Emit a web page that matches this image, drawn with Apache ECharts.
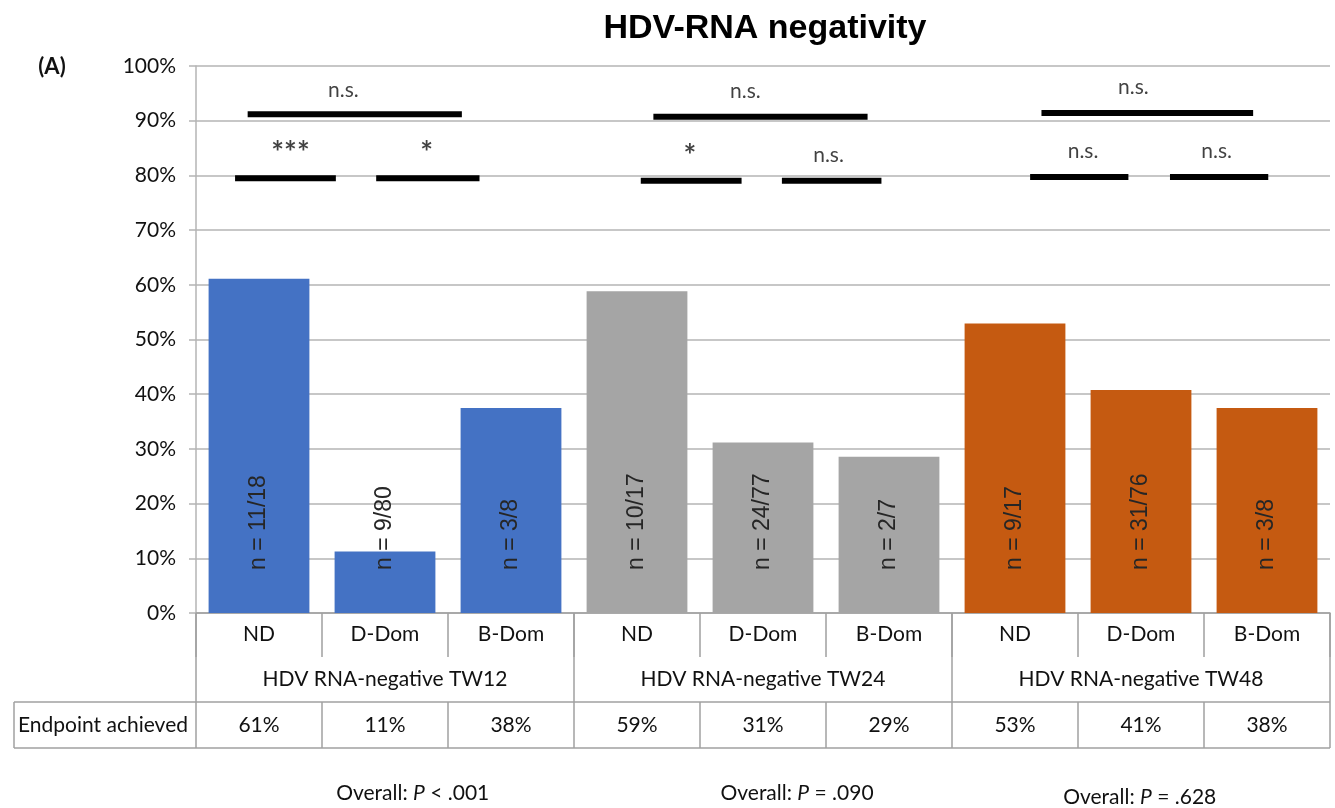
<!DOCTYPE html>
<html>
<head>
<meta charset="utf-8">
<script src="https://cdn.jsdelivr.net/npm/echarts@6/dist/echarts.min.js"></script>
<style>
  html, body { margin: 0; padding: 0; background: #fff; }
  #chart { width: 1335px; height: 808px; }
</style>
</head>
<body>
<div id="chart"></div>
<script>
// Patient subgroups, three per time window
const categories = ['ND', 'D-Dom', 'B-Dom', 'ND', 'D-Dom', 'B-Dom', 'ND', 'D-Dom', 'B-Dom'];
const groups = ['HDV RNA-negative TW12', 'HDV RNA-negative TW24', 'HDV RNA-negative TW48'];
const groupColors = ['#4472C4', '#A5A5A5', '#C55A11'];

// HDV RNA-negative patients / patients in subgroup
const responders = [11, 9, 3, 10, 24, 2, 9, 31, 3];
const totals = [18, 80, 8, 17, 77, 7, 17, 76, 8];
const endpointLabels = ['61%', '11%', '38%', '59%', '31%', '29%', '53%', '41%', '38%'];

// Overall test per time window: [operator, p-value]
const overallP = [['<', '.001'], ['=', '.090'], ['=', '.628']];
const overallPos = [[1.72, 0], [4.77, 0], [7.49, 4]]; // centre in category units, extra drop in px

// Pairwise comparisons: bar from/to (category units), level (%), label, label x, label y (%)
const comparisons = [
  [0.31, 1.11, 79.5, '***', 0.75, 84.0],
  [1.43, 2.25, 79.5, '*', 1.83, 84.0],
  [0.41, 2.11, 91.2, 'n.s.', 1.17, 95.6],
  [3.53, 4.33, 79.0, '*', 3.92, 83.4],
  [4.65, 5.44, 79.0, 'n.s.', 5.02, 83.7],
  [3.63, 5.33, 90.7, 'n.s.', 4.36, 95.4],
  [6.62, 7.40, 79.7, 'n.s.', 7.04, 84.5],
  [7.73, 8.51, 79.7, 'n.s.', 8.10, 84.5],
  [6.71, 8.39, 91.4, 'n.s.', 7.44, 96.2]
];

const SANS = 'Lato, "Open Sans", sans-serif';
const ARIAL = '"Liberation Sans", Arial, sans-serif';
const TEXT = '#111111';
const GRID = '#b4b4b4';
const TABLE = '#a0a0a0';

const pct = responders.map((r, i) => r / totals[i] * 100);

const barSeries = {
  type: 'bar',
  xAxisIndex: 0,
  yAxisIndex: 0,
  barWidth: '80%',
  data: pct.map((v, i) => ({
    value: v,
    itemStyle: { color: groupColors[Math.floor(i / 3)] }
  })),
  label: {
    show: true,
    position: 'insideBottom',
    distance: 43,
    rotate: 90,
    align: 'left',
    verticalAlign: 'middle',
    color: '#262626',
    fontFamily: ARIAL,
    fontSize: 23,
    formatter: p => 'n = ' + responders[p.dataIndex] + '/' + totals[p.dataIndex]
  },
  silent: true
};

const lineSeries = comparisons.map(c => ({
  type: 'line',
  xAxisIndex: 1,
  yAxisIndex: 0,
  symbol: 'none',
  lineStyle: { color: '#000', width: 6, cap: 'butt' },
  data: [[c[0], c[2]], [c[1], c[2]]],
  silent: true,
  z: 5
}));

const sigSeries = {
  type: 'scatter',
  xAxisIndex: 1,
  yAxisIndex: 0,
  symbolSize: 1,
  itemStyle: { color: 'transparent' },
  data: comparisons.map(c => ({
    value: [c[4], c[5]],
    name: c[3],
    label: c[3].indexOf('*') >= 0 ? { fontSize: 30, fontWeight: 'bold' } : {}
  })),
  label: {
    show: true,
    position: 'inside',
    formatter: p => p.name,
    fontFamily: SANS,
    fontSize: 21,
    color: TEXT
  },
  silent: true,
  z: 6
};

const option = {
  animation: false,
  title: {
    text: 'HDV-RNA negativity',
    left: 760,
    top: 7,
    textAlign: 'center',
    textStyle: { fontFamily: ARIAL, fontWeight: 'bold', fontSize: 34, color: '#000' }
  },
  grid: { left: 196, right: 5, top: 66, bottom: 195 },
  xAxis: [
    {
      type: 'category',
      data: categories,
      axisLine: { show: true, lineStyle: { color: TABLE, width: 1.5 } },
      axisTick: { show: true, length: 44, interval: 0, lineStyle: { color: TABLE, width: 1.5 } },
      axisLabel: { interval: 0, margin: 11, fontFamily: SANS, fontSize: 21, color: TEXT },
      splitLine: { show: false }
    },
    {
      type: 'value',
      min: 0,
      max: 9,
      show: false
    }
  ],
  yAxis: {
    type: 'value',
    min: 0,
    max: 100,
    interval: 10,
    axisLine: { show: true, lineStyle: { color: GRID, width: 1.5 } },
    axisTick: { show: true, length: 7, lineStyle: { color: GRID, width: 1.5 } },
    axisLabel: { margin: 20, formatter: '{value}%', fontFamily: SANS, fontSize: 21, color: TEXT },
    splitLine: { show: true, lineStyle: { color: GRID, width: 1.5 } }
  },
  series: [barSeries, ...lineSeries, sigSeries]
};

const chart = echarts.init(document.getElementById('chart'));
chart.setOption(option);

// Table below the axis: group row, endpoint row and overall p-values
const px = v => chart.convertToPixel({ xAxisIndex: 1 }, v);
const axisY = chart.convertToPixel({ yAxisIndex: 0 }, 0);
const row1Bottom = axisY + 44;
const row2Bottom = axisY + 89;
const row3Bottom = axisY + 135;
const tableLeft = 14;
const right = px(9);

const line = (x1, y1, x2, y2) => ({
  type: 'line',
  silent: true,
  shape: { x1, y1, x2, y2 },
  style: { stroke: TABLE, lineWidth: 1.5 }
});
const text = (x, y, str, extra) => ({
  type: 'text',
  silent: true,
  x, y,
  style: Object.assign({
    text: str,
    fontFamily: SANS,
    fontSize: 21,
    fill: TEXT,
    align: 'center',
    verticalAlign: 'middle'
  }, extra || {})
});

const g = [];
for (let k = 0; k <= 3; k++) g.push(line(px(3 * k), axisY, px(3 * k), row3Bottom));
for (let i = 1; i < 9; i++) if (i % 3) g.push(line(px(i), row2Bottom, px(i), row3Bottom));
g.push(line(tableLeft, row2Bottom, right, row2Bottom));
g.push(line(tableLeft, row3Bottom, right, row3Bottom));
g.push(line(tableLeft, row2Bottom, tableLeft, row3Bottom));

groups.forEach((name, k) => g.push(text(px(3 * k + 1.5), (row1Bottom + row2Bottom) / 2, name)));
endpointLabels.forEach((s, i) => g.push(text(px(i + 0.5), (row2Bottom + row3Bottom) / 2, s)));
g.push(text(tableLeft + 4, (row2Bottom + row3Bottom) / 2, 'Endpoint achieved', { align: 'left' }));

overallP.forEach((p, k) => {
  g.push({
    type: 'text',
    silent: true,
    x: px(overallPos[k][0]),
    y: row3Bottom + 45 + overallPos[k][1],
    style: {
      text: '{a|Overall: }{i|P}{a| ' + p[0] + ' ' + p[1] + '}',
      align: 'center',
      verticalAlign: 'middle',
      rich: {
        a: { fontFamily: SANS, fontSize: 21, fill: TEXT },
        i: { fontFamily: SANS, fontSize: 21, fill: TEXT, fontStyle: 'italic' }
      }
    }
  });
});

g.push(text(52, 67, '(A)', { fontWeight: 'bold', fontSize: 22 }));

chart.setOption({ graphic: g });
</script>
</body>
</html>
